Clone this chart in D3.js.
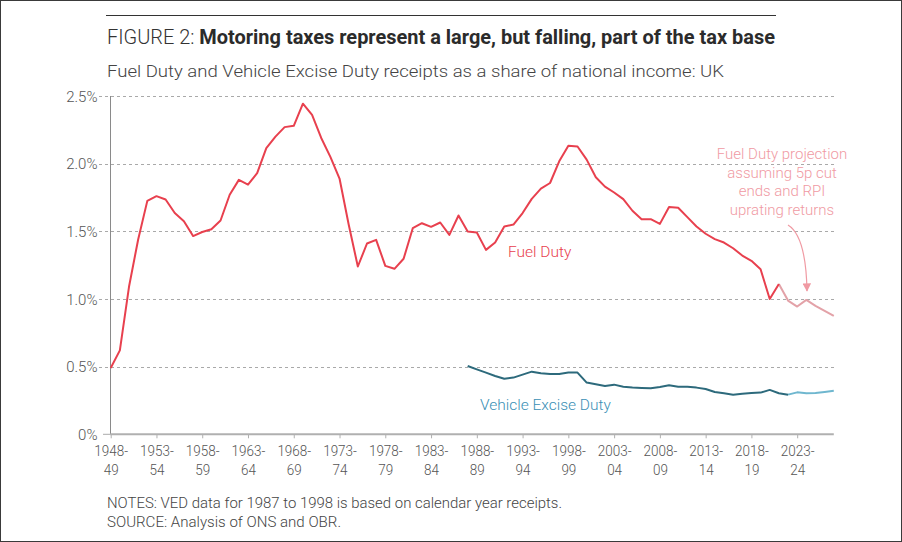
<!DOCTYPE html>
<html>
<head>
<meta charset="utf-8">
<script src="https://cdn.jsdelivr.net/npm/d3@7/dist/d3.min.js"></script>
<style>
  html, body { margin: 0; padding: 0; background: #fff; }
  svg { display: block; }
  text { font-family: Roboto, "Open Sans", sans-serif; }
</style>
</head>
<body>
<svg id="chart" width="902" height="542"></svg>
<script>
// ---------- DATA ----------
const firstYear = 1948;            // 1948-49 fiscal year = index 0
const lastYear = 2027;             // 2027-28
const tickYears = [1948, 1953, 1958, 1963, 1968, 1973, 1978, 1983, 1988, 1993, 1998, 2003, 2008, 2013, 2018, 2023];
const tickLabels = [["1948-","49"],["1953-","54"],["1958-","59"],["1963-","64"],["1968-","69"],["1973-","74"],["1978-","79"],["1983-","84"],["1988-","89"],["1993-","94"],["1998-","99"],["2003-","04"],["2008-","09"],["2013-","14"],["2018-","19"],["2023-","24"]];
const yTicks = [0, 0.5, 1.0, 1.5, 2.0, 2.5];
const yTickLabels = ["0%", "0.5%", "1.0%", "1.5%", "2.0%", "2.5%"];

// Fuel Duty outturn, % of national income, 1948-49 .. 2021-22
const fuelStart = 1948;
const fuelDuty = [0.49, 0.62, 1.09, 1.44, 1.725, 1.76, 1.735, 1.635, 1.575, 1.465,
  1.495, 1.515, 1.58, 1.77, 1.88, 1.845, 1.93, 2.115, 2.20, 2.27,
  2.28, 2.443, 2.36, 2.19, 2.05, 1.89, 1.55, 1.24, 1.41, 1.437,
  1.245, 1.223, 1.297, 1.523, 1.56, 1.533, 1.565, 1.474, 1.617, 1.499,
  1.491, 1.363, 1.417, 1.536, 1.55, 1.635, 1.74, 1.815, 1.857, 2.017,
  2.133, 2.127, 2.03, 1.90, 1.83, 1.787, 1.738, 1.652, 1.59, 1.59,
  1.555, 1.68, 1.674, 1.605, 1.536, 1.482, 1.442, 1.417, 1.375, 1.321,
  1.282, 1.22, 1.0, 1.11];
// Fuel Duty projection, 2021-22 .. 2027-28
const fuelProjStart = 2021;
const fuelDutyProj = [1.11, 0.988, 0.944, 0.993, 0.949, 0.912, 0.875];

// Vehicle Excise Duty outturn, 1987-88 .. 2022-23
const vedStart = 1987;
const ved = [0.505, 0.48, 0.456, 0.431, 0.411, 0.419, 0.441, 0.463, 0.451, 0.446,
  0.446, 0.456, 0.456, 0.382, 0.37, 0.357, 0.367, 0.352, 0.345, 0.342,
  0.34, 0.35, 0.362, 0.352, 0.352, 0.345, 0.335, 0.313, 0.303, 0.293,
  0.30, 0.305, 0.308, 0.328, 0.303, 0.293];
// VED projection, 2022-23 .. 2027-28
const vedProjStart = 2022;
const vedProj = [0.293, 0.31, 0.303, 0.305, 0.313, 0.322];

// ---------- DRAW ----------
const svg = d3.select("#chart");
const W = 902, H = 542;

const x = d3.scaleLinear().domain([firstYear, lastYear]).range([110.7, 833.8]);
const y = d3.scaleLinear().domain([0, 2.5]).range([434.3, 96]);

// outer frame
svg.append("rect").attr("x", 0.5).attr("y", 0.5).attr("width", W - 1).attr("height", H - 1)
  .attr("fill", "#fff").attr("stroke", "#3a3a3a").attr("stroke-width", 1);

// top rule
svg.append("line").attr("x1", 106).attr("x2", 776).attr("y1", 15.5).attr("y2", 15.5)
  .attr("stroke", "#333").attr("stroke-width", 1);

// title
const title = svg.append("text").attr("x", 107).attr("y", 44)
  .attr("font-size", 21).attr("fill", "#333")
  .attr("textLength", 668).attr("lengthAdjust", "spacingAndGlyphs");
title.append("tspan").attr("font-weight", 300).text("FIGURE 2: ");
title.append("tspan").attr("font-weight", 700).attr("fill", "#2b2b2b")
  .text("Motoring taxes represent a large, but falling, part of the tax base");

svg.append("text").attr("x", 107).attr("y", 77)
  .attr("font-size", 17).attr("fill", "#444").attr("font-weight", 300)
  .attr("textLength", 617).attr("lengthAdjust", "spacingAndGlyphs")
  .text("Fuel Duty and Vehicle Excise Duty receipts as a share of national income: UK");

// gridlines
svg.append("g").selectAll("line").data(yTicks.filter(d => d > 0)).join("line")
  .attr("x1", 99).attr("x2", 834)
  .attr("y1", d => Math.round(y(d)) + 0.5).attr("y2", d => Math.round(y(d)) + 0.5)
  .attr("stroke", "#a9a9a9").attr("stroke-width", 1).attr("stroke-dasharray", "3,3");

// y axis
const yAxis = d3.axisLeft(y).tickValues(yTicks)
  .tickFormat((d, i) => yTickLabels[i]).tickSize(0).tickPadding(13);
const gy = svg.append("g").attr("transform", "translate(110.5,0)").call(yAxis);
gy.select(".domain").attr("stroke", "#8a8a8a").attr("d", `M0,${y(2.5)}V${y(0)}`);
gy.selectAll("text").attr("font-size", 15).attr("fill", "#555").attr("font-weight", 300)
  .attr("font-family", "Roboto, sans-serif").attr("dy", "0.35em");
// small 0% tick
svg.append("line").attr("x1", 103).attr("x2", 110).attr("y1", y(0)).attr("y2", y(0))
  .attr("stroke", "#aaa").attr("stroke-width", 1);

// x axis
const xAxis = d3.axisBottom(x).tickValues(tickYears).tickSize(4).tickFormat("");
const gx = svg.append("g").attr("transform", `translate(0,${y(0)})`).call(xAxis);
gx.select(".domain").attr("stroke", "#b0b0b0").attr("stroke-width", 2)
  .attr("d", `M${x(firstYear) - 0.5},0H${x(lastYear)}`);
gx.selectAll(".tick line").attr("stroke", "#b0b0b0").attr("stroke-width", 1);
gx.selectAll(".tick").each(function (d, i) {
  const t = d3.select(this).append("text").attr("fill", "#555").attr("font-size", 15)
    .attr("font-weight", 300).attr("transform", "scale(0.9,1)")
    .attr("text-anchor", "middle").attr("font-family", "Roboto, sans-serif");
  t.append("tspan").attr("x", 0).attr("y", 22).text(tickLabels[i][0]);
  t.append("tspan").attr("x", 0).attr("y", 41).text(tickLabels[i][1]);
});

// lines
const line = d3.line().x(d => x(d[0])).y(d => y(d[1]));
const toPts = (start, arr) => arr.map((v, i) => [start + i, v]);

svg.append("path").datum(toPts(vedProjStart, vedProj)).attr("d", line)
  .attr("fill", "none").attr("stroke", "#6fb7cf").attr("stroke-width", 2).attr("stroke-linejoin", "round");
svg.append("path").datum(toPts(vedStart, ved)).attr("d", line)
  .attr("fill", "none").attr("stroke", "#2d6a7c").attr("stroke-width", 2).attr("stroke-linejoin", "round");
svg.append("path").datum(toPts(fuelProjStart, fuelDutyProj)).attr("d", line)
  .attr("fill", "none").attr("stroke", "#e3a2a8").attr("stroke-width", 2).attr("stroke-linejoin", "round");
svg.append("path").datum(toPts(fuelStart, fuelDuty)).attr("d", line)
  .attr("fill", "none").attr("stroke", "#e8404e").attr("stroke-width", 2).attr("stroke-linejoin", "round");

// labels
svg.append("text").attr("x", 508).attr("y", 257).attr("font-size", 15.5).attr("font-weight", 300)
  .attr("fill", "#e8404e").text("Fuel Duty");
svg.append("text").attr("x", 480).attr("y", 410).attr("font-size", 15.5).attr("font-weight", 300)
  .attr("fill", "#3a8fb5").text("Vehicle Excise Duty");

// annotation
const ann = ["Fuel Duty projection", "assuming 5p cut", "ends and RPI", "uprating returns"];
svg.append("g").selectAll("text").data(ann).join("text")
  .attr("x", 782).attr("y", (d, i) => 159 + i * 18.7).attr("font-weight", 300)
  .attr("text-anchor", "middle").attr("font-size", 15).attr("fill", "#f09aa3")
  .text(d => d);

// arrow
const defs = svg.append("defs");
defs.append("marker").attr("id", "arrowhead").attr("viewBox", "0 0 10 10")
  .attr("refX", 9).attr("refY", 5).attr("markerWidth", 7).attr("markerHeight", 7)
  .attr("orient", "auto-start-reverse")
  .append("path").attr("d", "M0,0 L10,5 L0,10 z").attr("fill", "#f09aa3");
svg.append("path").attr("d", "M788,225 Q806,236 807,291")
  .attr("fill", "none").attr("stroke", "#f09aa3").attr("stroke-width", 1.2)
  .attr("marker-end", "url(#arrowhead)");

// notes
svg.append("text").attr("x", 107).attr("y", 508).attr("font-size", 14).attr("fill", "#444")
  .attr("font-weight", 300)
  .attr("textLength", 455).attr("lengthAdjust", "spacingAndGlyphs")
  .text("NOTES: VED data for 1987 to 1998 is based on calendar year receipts.");
svg.append("text").attr("x", 107).attr("y", 527).attr("font-size", 14).attr("fill", "#444")
  .attr("font-weight", 300)
  .attr("textLength", 234).attr("lengthAdjust", "spacingAndGlyphs")
  .text("SOURCE: Analysis of ONS and OBR.");
</script>
</body>
</html>
